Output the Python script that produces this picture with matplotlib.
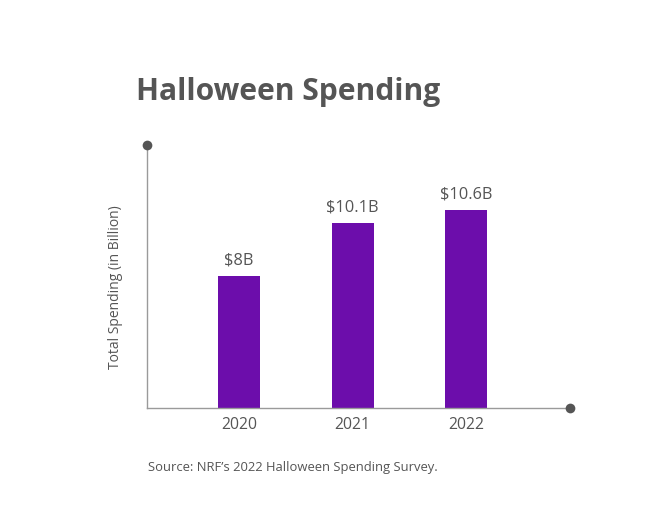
import matplotlib
matplotlib.use("Agg")
import matplotlib.pyplot as plt

years = ["2020", "2021", "2022"]
spending = [8.0, 10.1, 10.6]
value_labels = ["$8B", "$10.1B", "$10.6B"]

plt.rcParams['font.family'] = ['Open Sans', 'DejaVu Sans']

fig = plt.figure(figsize=(6.66, 5.10), dpi=100)
ax = fig.add_axes([147/666, 1-409/510, 423/666, 263/510])

x = list(range(len(years)))
bars = ax.bar(x, spending, width=0.37, color="#6C0DAB", zorder=2)

ax.set_xlim(-0.8106, 2.916)
ax.set_ylim(2.75, 13.19)

for xi, v, lab in zip(x, spending, value_labels):
    ax.annotate(lab, (xi, v), xytext=(0, 6), textcoords="offset points",
                ha="center", va="bottom", fontsize=11.8, color="#555555")

ax.set_xticks(x)
ax.set_xticklabels(years, fontsize=11.3, color="#555555")
ax.tick_params(axis="x", length=0, pad=6)
ax.set_yticks([])

for s in ["top", "right"]:
    ax.spines[s].set_visible(False)
for s in ["left", "bottom"]:
    ax.spines[s].set_color("#9a9a9a")
    ax.spines[s].set_linewidth(1.0)

ax.plot([0], [1], "o", color="#555555", markersize=7, markeredgewidth=0,
        transform=ax.transAxes, clip_on=False, zorder=5)
ax.plot([1], [0], "o", color="#555555", markersize=7, markeredgewidth=0,
        transform=ax.transAxes, clip_on=False, zorder=5)

ax.set_ylabel("Total Spending (in Billion)", fontsize=10, color="#555555")
ax.yaxis.set_label_coords(-0.057, 0.462)

fig.text(136/666, 1-92/510, "Halloween Spending", fontsize=21.6, fontweight="bold",
         color="#555555", ha="left", va="center")
fig.text(148/666, 1-468/510, "Source: NRF\u2019s 2022 Halloween Spending Survey.",
         fontsize=9.4, color="#555555", ha="left", va="center")

fig.savefig("out.png", dpi=100)
